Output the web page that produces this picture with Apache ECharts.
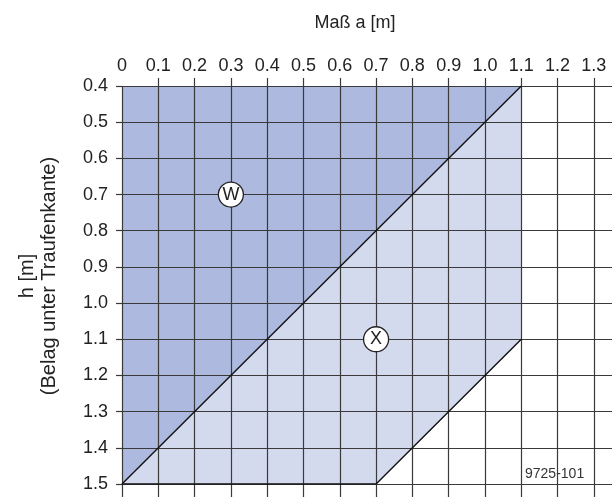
<!DOCTYPE html>
<html>
<head>
<meta charset="utf-8">
<script src="https://cdn.jsdelivr.net/npm/echarts@6/dist/echarts.min.js"></script>
<style>
  html, body { margin: 0; padding: 0; background: #fff; }
  #chart { width: 615px; height: 497px; }
</style>
</head>
<body>
<div id="chart"></div>
<script>
// Maß a [m] vs. h [m]
const regionW = [[0, 0.4], [1.1, 0.4], [0, 1.5]];
const regionX = [[1.1, 0.4], [1.1, 1.1], [0.7, 1.5], [0, 1.5]];
const diagonal = [[1.1, 0.4], [0, 1.5]];
const lowerEdge = [[0, 1.5], [0.7, 1.5], [1.1, 1.1]];
const markers = [
  { name: 'W', value: [0.3, 0.7] },
  { name: 'X', value: [0.7, 1.1] }
];
const regions = [regionX, regionW];
const regionColors = ['#d4daee', '#adb9de'];

const gridColor = '#3a3a3a';
const font = 'Liberation Sans, Arial, sans-serif';

const chart = echarts.init(document.getElementById('chart'));

chart.setOption({
  animation: false,
  title: {
    text: 'Maß a [m]',
    left: 350,
    top: 9,
    textAlign: 'center',
    textStyle: { fontFamily: font, fontSize: 18, fontWeight: 'normal', color: '#222' }
  },
  graphic: [
    {
      type: 'text',
      x: 38,
      y: 276,
      rotation: Math.PI / 2,
      style: {
        text: 'h [m]\n(Belag unter Traufenkante)',
        font: '20px ' + font,
        fill: '#222',
        align: 'center',
        verticalAlign: 'middle',
        lineHeight: 22
      }
    },
    {
      type: 'text',
      x: 525,
      y: 474,
      style: {
        text: '9725-101',
        font: '14px "Liberation Sans Narrow", ' + font,
        fill: '#333',
        align: 'left',
        verticalAlign: 'middle'
      }
    }
  ],
  grid: [
    { left: 122, top: 86, right: 3, bottom: 13 },   // main plot
    { left: 122, top: 86, right: 3, bottom: 0 },    // vertical lines
    { left: 122, top: 78, right: 3, height: 8 }     // tick stubs above
  ],
  xAxis: [
    {
      gridIndex: 0, type: 'value', position: 'top', min: 0, max: 1.35, interval: 0.1,
      axisLine: { show: false }, axisTick: { show: false }, splitLine: { show: false },
      axisLabel: {
        margin: 11, showMaxLabel: false, fontFamily: font, fontSize: 18, color: '#222',
        formatter: v => (v === 0 ? '0' : v.toFixed(1))
      }
    },
    {
      gridIndex: 1, type: 'value', min: 0, max: 1.35, interval: 0.1,
      axisLine: { show: false }, axisTick: { show: false }, axisLabel: { show: false },
      splitLine: { show: true, showMaxLine: false, lineStyle: { color: gridColor, width: 1.2 } }
    },
    {
      gridIndex: 2, type: 'value', min: 0, max: 1.35, interval: 0.1,
      axisLine: { show: false }, axisTick: { show: false }, axisLabel: { show: false },
      splitLine: { show: true, showMinLine: false, showMaxLine: false, lineStyle: { color: gridColor, width: 1.2 } }
    }
  ],
  yAxis: [
    {
      gridIndex: 0, type: 'value', inverse: true, min: 0.4, max: 1.5, interval: 0.1,
      axisLine: { show: false },
      axisTick: { show: true, length: 6, lineStyle: { color: gridColor, width: 1.2 } },
      axisLabel: {
        margin: 14, fontFamily: font, fontSize: 18, color: '#222',
        formatter: v => v.toFixed(1)
      },
      splitLine: { show: true, lineStyle: { color: gridColor, width: 1.2 } }
    },
    { gridIndex: 1, type: 'value', show: false, min: 0, max: 1 },
    { gridIndex: 2, type: 'value', show: false, min: 0, max: 1 }
  ],
  series: [
    {
      type: 'custom',
      xAxisIndex: 0,
      yAxisIndex: 0,
      z: -1,
      silent: true,
      data: regions.map(r => r[0]),
      renderItem: function (params, api) {
        const pts = regions[params.dataIndex].map(p => api.coord(p));
        return {
          type: 'polygon',
          shape: { points: pts },
          style: { fill: regionColors[params.dataIndex], stroke: 'none' }
        };
      }
    },
    {
      type: 'line',
      xAxisIndex: 0,
      yAxisIndex: 0,
      data: diagonal,
      symbol: 'none',
      lineStyle: { color: '#111', width: 1.4 },
      z: 3
    },
    {
      type: 'line',
      xAxisIndex: 0,
      yAxisIndex: 0,
      data: lowerEdge,
      symbol: 'none',
      lineStyle: { color: '#111', width: 1.4 },
      z: 3
    },
    {
      type: 'scatter',
      xAxisIndex: 0,
      yAxisIndex: 0,
      data: markers,
      symbol: 'circle',
      symbolSize: 25,
      itemStyle: { color: '#fff', opacity: 1, borderColor: '#222', borderWidth: 1.3 },
      label: {
        show: true,
        position: 'inside',
        formatter: p => p.name,
        fontFamily: font,
        fontSize: 18,
        color: '#222'
      },
      z: 4
    }
  ]
});
</script>
</body>
</html>
